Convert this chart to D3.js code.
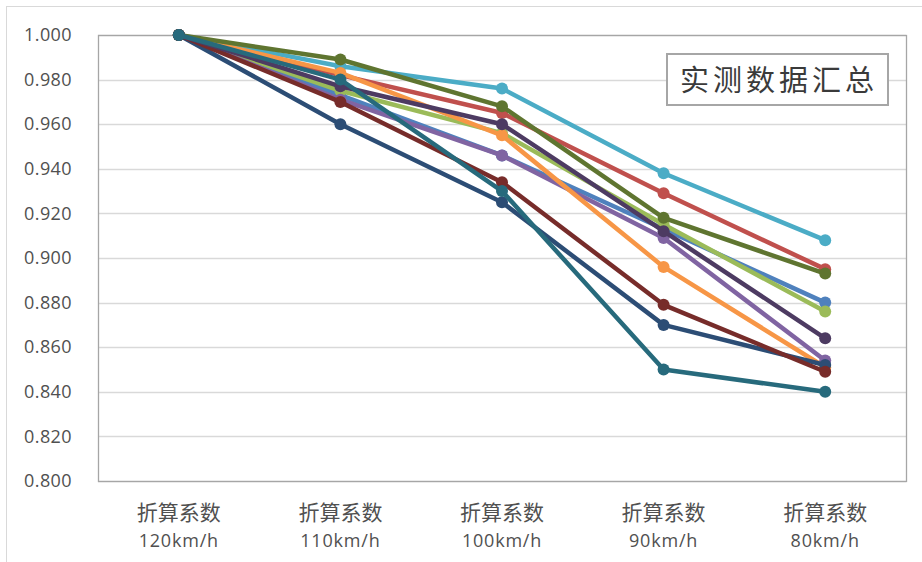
<!DOCTYPE html>
<html>
<head>
<meta charset="utf-8">
<script src="https://cdn.jsdelivr.net/npm/d3@7/dist/d3.min.js"></script>
<style>
  html, body { margin: 0; padding: 0; background: #ffffff; }
  svg { display: block; }
</style>
</head>
<body>
<svg id="chart" width="922" height="562"></svg>
<script>
// Categories: conversion factor at each speed
const categoryTop = ["折算系数", "折算系数", "折算系数", "折算系数", "折算系数"];
const categoryBottom = ["120km/h", "110km/h", "100km/h", "90km/h", "80km/h"];
const categories = categoryBottom;

// Measured series (drawn in this order, last on top)
const sBlue       = [1.000, 0.973, 0.946, 0.913, 0.880];
const sRed        = [1.000, 0.982, 0.965, 0.929, 0.895];
const sGreen      = [1.000, 0.975, 0.956, 0.915, 0.876];
const sPurple     = [1.000, 0.971, 0.946, 0.909, 0.854];
const sAqua       = [1.000, 0.986, 0.976, 0.938, 0.908];
const sOrange     = [1.000, 0.983, 0.955, 0.896, 0.851];
const sDarkBlue   = [1.000, 0.960, 0.925, 0.870, 0.852];
const sDarkRed    = [1.000, 0.970, 0.934, 0.879, 0.849];
const sDarkGreen  = [1.000, 0.989, 0.968, 0.918, 0.893];
const sDarkPurple = [1.000, 0.977, 0.960, 0.912, 0.864];
const sDarkTeal   = [1.000, 0.980, 0.930, 0.850, 0.840];

const seriesList = [sBlue, sRed, sGreen, sPurple, sAqua, sOrange,
                    sDarkBlue, sDarkRed, sDarkGreen, sDarkPurple, sDarkTeal];
const seriesColors = ["#4f81bd", "#c0504d", "#9bbb59", "#8064a2", "#4bacc6", "#f79646",
                      "#2c4d75", "#772c2a", "#5f7530", "#4d3b62", "#276a7c"];

const yTicks = [0.800, 0.820, 0.840, 0.860, 0.880, 0.900, 0.920, 0.940, 0.960, 0.980, 1.000];
const titleText = "实测数据汇总";

const svg = d3.select("#chart");
const plot = { left: 98, right: 906, top: 35, bottom: 481 };

// outer chart frame
svg.append("rect")
  .attr("x", 6.5).attr("y", 6.5)
  .attr("width", 940).attr("height", 570)
  .attr("fill", "none").attr("stroke", "#d9d9d9").attr("stroke-width", 1);

const x = d3.scaleBand().domain(categories).range([plot.left, plot.right]);
const cx = c => x(c) + x.bandwidth() / 2;
const y = d3.scaleLinear().domain([0.8, 1.0]).range([plot.bottom, plot.top]);

// horizontal gridlines
svg.append("g").selectAll("line")
  .data(yTicks)
  .join("line")
  .attr("x1", plot.left).attr("x2", plot.right)
  .attr("y1", d => Math.round(y(d)) + 0.5).attr("y2", d => Math.round(y(d)) + 0.5)
  .attr("stroke", "#d9d9d9").attr("stroke-width", 1.3);

// plot area border
svg.append("rect")
  .attr("x", plot.left + 0.5).attr("y", Math.round(y(1.0)) + 0.5)
  .attr("width", plot.right - plot.left)
  .attr("height", Math.round(y(0.8)) - Math.round(y(1.0)))
  .attr("fill", "none").attr("stroke", "#a6a6a6").attr("stroke-width", 1.3);

// y axis labels
const yAxis = svg.append("g")
  .attr("transform", `translate(${plot.left},0)`)
  .call(d3.axisLeft(y).tickValues(yTicks).tickSize(0).tickPadding(26).tickFormat(d3.format(".3f")));
yAxis.select(".domain").remove();
yAxis.selectAll("text")
  .attr("font-family", "'Open Sans', sans-serif")
  .attr("font-size", 18)
  .attr("letter-spacing", 0.4)
  .attr("fill", "#505050");

// x axis labels (two lines)
const xLab = svg.append("g").selectAll("g")
  .data(categories)
  .join("g")
  .attr("transform", d => `translate(${cx(d)},0)`);
xLab.append("text")
  .attr("y", 520)
  .attr("text-anchor", "middle")
  .attr("font-family", "'Noto Sans CJK SC', sans-serif")
  .attr("font-size", 21)
  .attr("fill", "#505050")
  .text((d, i) => categoryTop[i]);
xLab.append("text")
  .attr("y", 547)
  .attr("text-anchor", "middle")
  .attr("font-family", "'Open Sans', sans-serif")
  .attr("font-size", 18)
  .attr("letter-spacing", 0.8)
  .attr("fill", "#505050")
  .text(d => d);

// lines and markers
const line = d3.line().x((d, i) => cx(categories[i])).y(d => y(d));
seriesList.forEach((vals, si) => {
  const g = svg.append("g");
  g.append("path")
    .datum(vals)
    .attr("d", line)
    .attr("fill", "none")
    .attr("stroke", seriesColors[si])
    .attr("stroke-width", 4.5)
    .attr("stroke-linejoin", "round")
    .attr("stroke-linecap", "round");
  g.selectAll("circle")
    .data(vals)
    .join("circle")
    .attr("cx", (d, i) => cx(categories[i]))
    .attr("cy", d => y(d))
    .attr("r", 6)
    .attr("fill", seriesColors[si]);
});

// title box
svg.append("rect")
  .attr("x", 667).attr("y", 54)
  .attr("width", 221).attr("height", 51)
  .attr("fill", "#ffffff")
  .attr("stroke", "#a6a6a6").attr("stroke-width", 2);
svg.append("text")
  .attr("x", 779).attr("y", 91)
  .attr("text-anchor", "middle")
  .attr("font-family", "'Noto Sans CJK SC', sans-serif")
  .attr("font-size", 29)
  .attr("letter-spacing", 4)
  .attr("fill", "#3a3a3a")
  .text(titleText);
</script>
</body>
</html>
